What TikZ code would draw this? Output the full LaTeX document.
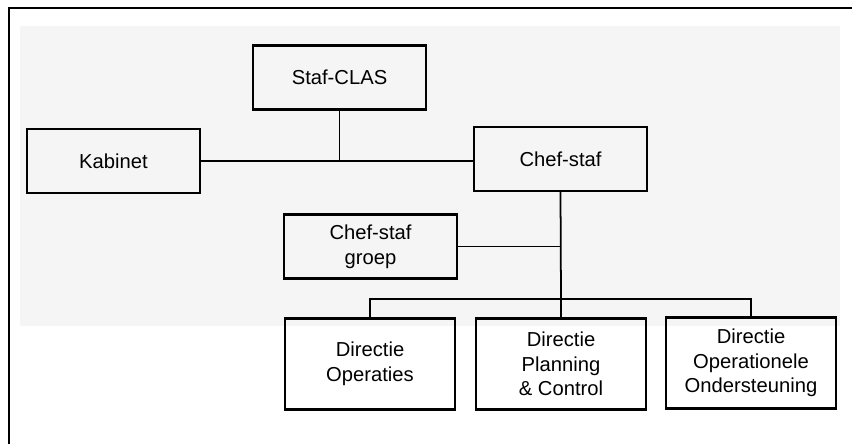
\documentclass[tikz,border=0pt]{standalone}
\usepackage{fontspec}
\setmainfont{Liberation Sans}
\begin{document}
\begin{tikzpicture}[x=0.02cm, y=-0.02cm,
  box/.style={draw, line width=1.2pt, align=center, inner sep=0pt,
    font=\fontsize{11.5}{14}\selectfont},
  wide/.style={box, minimum width=3.46cm, minimum height=1.28cm},
  dir/.style={box, minimum width=3.4cm, minimum height=1.82cm},
  line/.style={line width=1pt}]
\useasboundingbox (0,0) rectangle (852,444);
\fill [gray!8] (20,26) rectangle (840,326);
\draw [line width=0.9pt] (9,444)--(9,8)--(852,8);

\node [wide] (stafclas) at (339.5,77.5) {Staf-CLAS};
\node [wide] (kabinet) at (113.5,161) {Kabinet};
\node [wide] (chefstaf) at (560.5,159) {Chef-staf};
\node [wide] (groep) at (370.5,246.5) {Chef-staf\\groep};

\node [dir] (operaties) at (370,364) {Directie\\Operaties};
\node [dir] (planning) at (561,364) {Directie\\Planning\\\& Control};
\node [dir] (ondersteuning) at (751,363) {Directie\\Operationele\\Ondersteuning};

\coordinate (bus) at (561,299);

\draw [line] (kabinet.east)--(kabinet.east -| chefstaf.west);
\draw [line] (stafclas.south)--(stafclas.south |- kabinet.east);
\draw [line] (chefstaf.south)--(bus);
\draw [line] (groep.east)--(groep.east -| chefstaf.south);
\draw [line] (operaties.north) |- (bus) -| (ondersteuning.north);
\draw [line] (bus)--(planning.north);

\end{tikzpicture}
\end{document}
